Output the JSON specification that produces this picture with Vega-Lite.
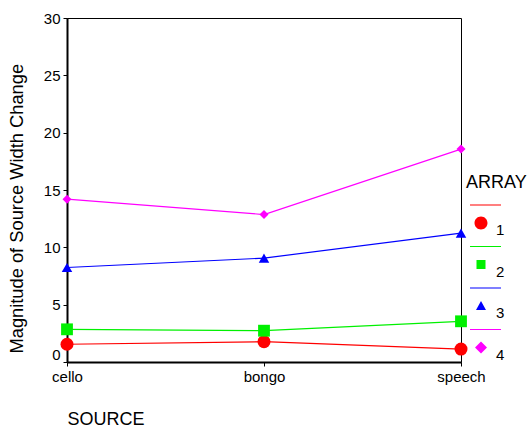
{
  "$schema": "https://vega.github.io/schema/vega-lite/v6.json",
  "width": 394,
  "height": 344,
  "autosize": "none",
  "padding": {"left": 67, "top": 18, "right": 70, "bottom": 65},
  "background": "white",
  "config": {
    "font": "Liberation Sans",
    "view": {"stroke": "black", "strokeWidth": 1}
  },
  "data": {
    "values": [
      {"source": "cello", "array": "1", "value": 1.55},
      {"source": "bongo", "array": "1", "value": 1.77},
      {"source": "speech", "array": "1", "value": 1.13},
      {"source": "cello", "array": "2", "value": 2.85},
      {"source": "bongo", "array": "2", "value": 2.73},
      {"source": "speech", "array": "2", "value": 3.55},
      {"source": "cello", "array": "3", "value": 8.24},
      {"source": "bongo", "array": "3", "value": 9.06},
      {"source": "speech", "array": "3", "value": 11.24},
      {"source": "cello", "array": "4", "value": 14.2},
      {"source": "bongo", "array": "4", "value": 12.86},
      {"source": "speech", "array": "4", "value": 18.57}
    ]
  },
  "encoding": {
    "x": {
      "field": "source", "type": "nominal", "sort": ["cello", "bongo", "speech"],
      "scale": {"type": "point", "padding": 0},
      "axis": {
        "title": "SOURCE", "titleFontSize": 18, "titleFontWeight": "normal", "titleColor": "black",
        "titleAnchor": "start", "titleAlign": "left", "titlePadding": 26,
        "labelAngle": 0, "labelFontSize": 15, "labelColor": "black", "labelPadding": 3,
        "tickSize": 4, "tickColor": "black", "domainWidth": 2, "domainColor": "black", "grid": false
      }
    },
    "y": {
      "field": "value", "type": "quantitative",
      "scale": {"domain": [0, 30], "nice": false},
      "axis": {
        "title": "Magnitude of Source Width Change", "titleFontSize": 18.3, "titleFontWeight": "normal",
        "titleColor": "black", "titleAnchor": "start", "titlePadding": 17, "titleY": 335,
        "values": [0, 5, 10, 15, 20, 25, 30],
        "labelFontSize": 15, "labelColor": "black", "labelPadding": 3,
        "labelOffset": {"condition": {"test": "datum.value === 0", "value": -8}, "value": 0},
        "tickSize": 4, "tickColor": "black", "domainWidth": 2, "domainColor": "black", "grid": false
      }
    }
  },
  "layer": [
    {
      "mark": {"type": "line", "strokeWidth": 1.2},
      "encoding": {
        "color": {
          "field": "array", "type": "nominal",
          "scale": {"domain": ["1", "2", "3", "4"], "range": ["#ff0000", "#00f000", "#0000ff", "#ff00ff"]},
          "legend": null
        }
      }
    },
    {
      "mark": {"type": "point", "filled": true, "opacity": 1},
      "encoding": {
        "color": {
          "field": "array", "type": "nominal",
          "scale": {"domain": ["1", "2", "3", "4"], "range": ["#ff0000", "#00f000", "#0000ff", "#ff00ff"]},
          "legend": null
        },
        "shape": {
          "field": "array", "type": "nominal",
          "scale": {"domain": ["1", "2", "3", "4"], "range": ["circle", "square", "triangle-up", "diamond"]},
          "legend": null
        },
        "size": {
          "field": "array", "type": "nominal",
          "scale": {"domain": ["1", "2", "3", "4"], "range": [169, 81, 121, 180]},
          "legend": null
        }
      }
    },
    {
      "transform": [{"filter": "false"}],
      "mark": {"type": "point", "filled": true, "opacity": 1, "size": 900},
      "encoding": {
        "fill": {
          "field": "array", "type": "nominal",
          "scale": {"domain": ["1", "2", "3", "4"], "range": ["#ff0000", "#00f000", "#0000ff", "#ff00ff"]},
          "legend": {
            "orient": "none", "legendX": 399, "legendY": 156, "padding": 0,
            "title": "ARRAY", "titleFontSize": 18, "titleFontWeight": "normal", "titleColor": "black", "titlePadding": 16,
            "labelFontSize": 15, "labelColor": "black", "labelBaseline": "top", "labelOffset": 0,
            "symbolSize": 900, "symbolStrokeWidth": 0, "rowPadding": 7.5
          }
        },
        "shape": {
          "field": "array", "type": "nominal",
          "scale": {
            "domain": ["1", "2", "3", "4"],
            "range": [
              "M-0.733,-1.233H1.333V-1.167H-0.733Z M-0.433,0A0.433,0.433,0,1,0,0.433,0A0.433,0.433,0,1,0,-0.433,0Z",
              "M-0.733,-1.233H1.333V-1.167H-0.733Z M-0.3,-0.3H0.3V0.3H-0.3Z",
              "M-0.733,-1.233H1.333V-1.167H-0.733Z M0,-0.333L0.333,0.267H-0.333Z",
              "M-0.733,-1.233H1.333V-1.167H-0.733Z M0,-0.4L0.4,0L0,0.4L-0.4,0Z"
            ]
          },
          "legend": {
            "orient": "none", "legendX": 399, "legendY": 156, "padding": 0,
            "title": "ARRAY", "titleFontSize": 18, "titleFontWeight": "normal", "titleColor": "black", "titlePadding": 16,
            "labelFontSize": 15, "labelColor": "black", "labelBaseline": "top", "labelOffset": 0,
            "symbolSize": 900, "symbolStrokeWidth": 0, "rowPadding": 7.5
          }
        }
      }
    }
  ],
  "resolve": {"scale": {"shape": "independent", "size": "independent", "fill": "independent"}}
}
